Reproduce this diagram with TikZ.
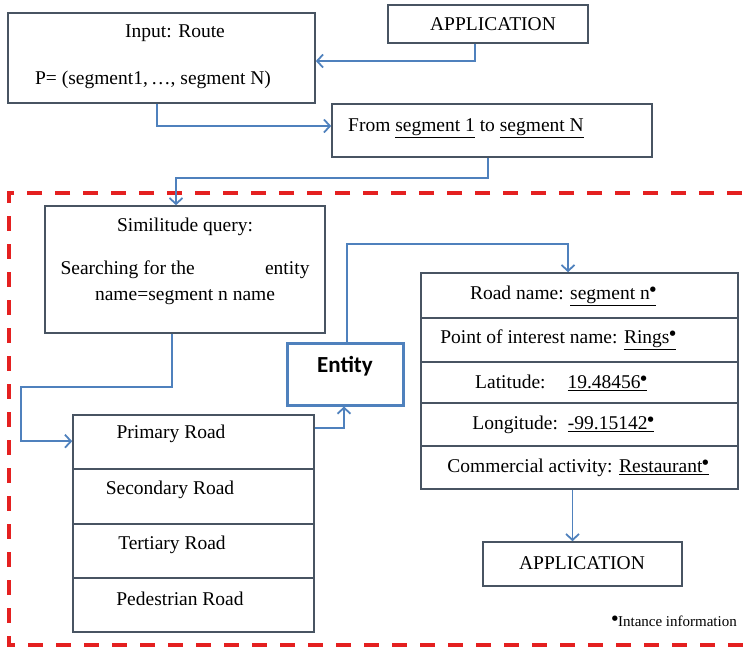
\documentclass[tikz,border=0pt]{standalone}
\usepackage{fontspec}
\setmainfont{Liberation Serif}
\newfontfamily\entfont{Carlito}
\newfontfamily\dotfont{DejaVu Sans}
\usetikzlibrary{arrows.meta,calc}
\definecolor{linkblue}{RGB}{79,129,189}
\definecolor{boxc}{RGB}{72,84,98}
\definecolor{dashred}{RGB}{228,32,32}
\newcommand\instmark{\raisebox{0.42em}{\dotfont\fontsize{7}{7}\selectfont ●}}
\begin{document}
\begin{tikzpicture}[x=1pt,y=-1pt,
  box/.style={draw=boxc, line width=1.6pt, inner sep=0pt},
  txt/.style={font=\fontsize{19.5}{23}\selectfont, inner sep=0pt},
  link/.style={draw=linkblue, line width=1.8pt, -{Straight Barb[length=6pt,width=13pt]}},
  divider/.style={draw=boxc, line width=1.6pt},
  reddash/.style={draw=dashred, line width=3.5pt, dash pattern=on 15pt off 13pt}]
\useasboundingbox (0,0) rectangle (753,649);

% red dashed frame
\draw[reddash] (770,193) -- (9,193) -- (9,645) -- (770,645);

% boxes
\node[box, minimum width=307pt, minimum height=90pt] (inp) at (161.5,58) {};
\node[txt] (inpt1) at (175,33) {Input: Route};
\node[txt] (inpt2) at (153,80) {P= (segment1,\,…, segment N)};

\node[box, minimum width=200pt, minimum height=38pt] (app1) at (488,24) {};
\node[txt] (app1t) at (493,24) {APPLICATION};

\node[box, minimum width=320pt, minimum height=53pt] (from) at (492,130.5) {};
\node[txt, anchor=west] (fromt) at (348,128) {From \underline{segment 1} to \underline{segment N}};

\node[box, minimum width=280pt, minimum height=127pt] (sim) at (185,269.5) {};
\node[txt] (simt1) at (185,227) {Similitude query:};
\node[txt] (simt2) at (185,270) {\makebox[249pt]{Searching for the\hfill entity}};
\node[txt] (simt3) at (185,297) {name=segment n name};

\node[draw=linkblue, line width=3pt, minimum width=116pt, minimum height=62pt, inner sep=0pt] (entity) at (345,374) {};
\node[inner sep=0pt] (entityt) at (345,366) {\entfont\bfseries\fontsize{23}{26}\selectfont Entity};

\node[box, minimum width=241pt, minimum height=217pt] (roads) at (193.5,523.5) {};
\draw[divider] (roads.west |- 0,469) -- (roads.east |- 0,469);
\draw[divider] (roads.west |- 0,524) -- (roads.east |- 0,524);
\draw[divider] (roads.west |- 0,578) -- (roads.east |- 0,578);
\node[txt] (r1) at (171,434) {Primary Road};
\node[txt] (r2) at (170,490) {Secondary Road};
\node[txt] (r3) at (172,545) {Tertiary Road};
\node[txt] (r4) at (180,599) {Pedestrian Road};

\node[box, minimum width=317pt, minimum height=216pt] (info) at (579.5,381) {};
\draw[divider] (info.west |- 0,318) -- (info.east |- 0,318);
\draw[divider] (info.west |- 0,362) -- (info.east |- 0,362);
\draw[divider] (info.west |- 0,403) -- (info.east |- 0,403);
\draw[divider] (info.west |- 0,446) -- (info.east |- 0,446);
\node[txt] (i1) at (563,296) {Road name: \underline{segment n\instmark}};
\node[txt] (i2) at (558,340) {Point of interest name: \underline{Rings\instmark}};
\node[txt] (i3) at (561,383) {Latitude:\hspace{22pt}\underline{19.48456\instmark}};
\node[txt] (i4) at (563,425) {Longitude:\hspace{10pt}\underline{-99.15142\instmark}};
\node[txt] (i5) at (578,468) {Commercial activity: \underline{Restaurant\instmark}};

\node[box, minimum width=199pt, minimum height=44pt] (app2) at (582.5,564) {};
\node[txt] (app2t) at (582,563) {APPLICATION};

\node[inner sep=0pt, anchor=east, font=\fontsize{15}{18}\selectfont] (note) at (737,621) {\instmark Intance information};

% connectors
\draw[link] ([xshift=-13pt]app1.south) |- ([yshift=-3pt]inp.east);
\draw[link] ([xshift=-4.5pt]inp.south) |- ([yshift=4.5pt]from.west);
\coordinate (b0) at (176,178);
\draw[link] ([xshift=-4pt]from.south) |- (b0) -- (b0 |- sim.north);
\coordinate (b1) at (21,387);
\draw[link] ([xshift=-13pt]sim.south) |- (b1) |- ([yshift=-27pt]roads.north west);
\draw[link] ([yshift=-14pt]roads.north east) -| ([xshift=-1pt]entity.south);
\coordinate (b2) at (568,244);
\draw[link] ([xshift=2pt]entity.north) |- (b2) -- (b2 |- info.north);
\draw[link] ([xshift=-7pt]info.south) -- ([xshift=-10pt]app2.north);
\end{tikzpicture}
\end{document}
